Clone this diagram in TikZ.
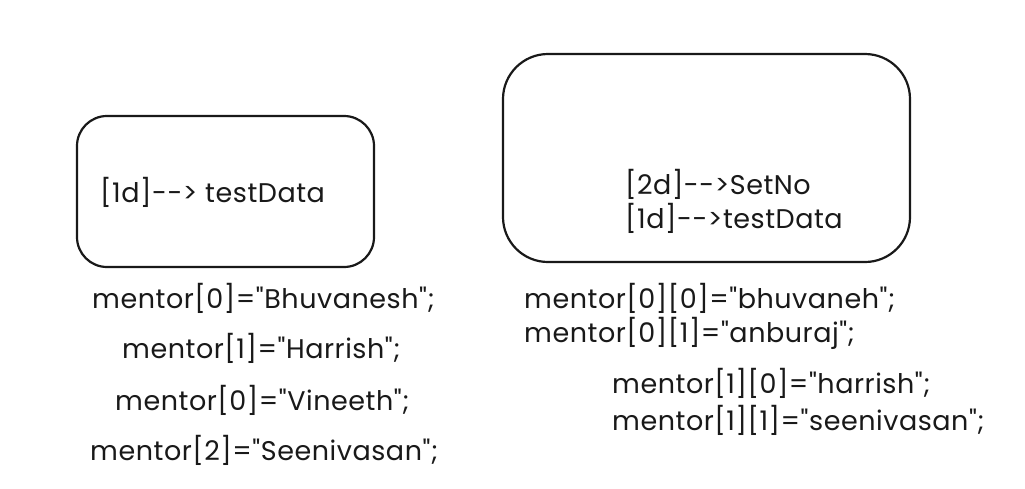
\documentclass[tikz,border=0pt]{standalone}
\usepackage{fontspec}
\setmainfont{Poppins}[Ligatures=TeXOff,LetterSpace=2]
\begin{document}
\begin{tikzpicture}[x=1pt,y=-1pt,
  box/.style={draw=black!90,line width=2.2pt},
  txt/.style={anchor=west,inner sep=0pt,font=\fontsize{27}{30}\selectfont,text=black!90}]
\useasboundingbox[fill=white] (0,0) rectangle (1025,488);
\draw[box,rounded corners=30pt] (77,116) rectangle (374,267);
\draw[box,rounded corners=45pt] (503,54) rectangle (910,262);
\node[txt] (a) at (100,192) {[1d]--> testData};
\node[txt] (b1) at (625,184) {[2d]-->SetNo};
\node[txt] (b2) at (625,218) {[1d]-->testData};
\node[txt] (l1) at (92,298) {mentor[0]="Bhuvanesh";};
\node[txt] (l2) at (122,348) {mentor[1]="Harrish";};
\node[txt] (l3) at (115,400) {mentor[0]="Vineeth";};
\node[txt] (l4) at (90,450) {mentor[2]="Seenivasan";};
\node[txt] (r1) at (524,298) {mentor[0][0]="bhuvaneh";};
\node[txt] (r2) at (524,333) {mentor[0][1]="anburaj";};
\node[txt] (r3) at (612,383) {mentor[1][0]="harrish";};
\node[txt] (r4) at (612,420) {mentor[1][1]="seenivasan";};
\end{tikzpicture}
\end{document}
